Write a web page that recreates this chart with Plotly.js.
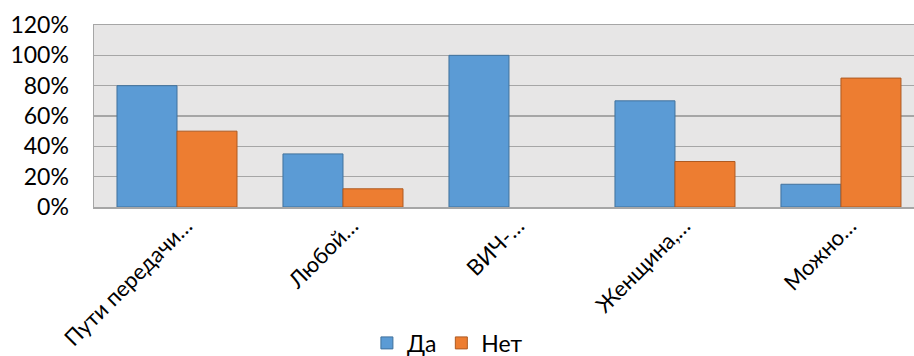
<!DOCTYPE html>
<html>
<head>
<meta charset="utf-8">
<script src="https://cdn.plot.ly/plotly-3.0.1.min.js"></script>
<style>
  html, body { margin: 0; padding: 0; background: #ffffff; overflow: hidden; }
  #chart { width: 914px; height: 356px; }
</style>
</head>
<body>
<div id="chart"></div>
<script>
// Survey answers by statement (share of respondents)
const categories = ["Пути передачи…", "Любой…", "ВИЧ-…", "Женщина,…", "Можно…"];
const yesValues = [0.80, 0.35, 1.00, 0.70, 0.15];
const noValues = [0.50, 0.12, 0.00, 0.30, 0.85];
const yTicks = [0, 0.2, 0.4, 0.6, 0.8, 1.0, 1.2];
const yTickLabels = ["0%", "20%", "40%", "60%", "80%", "100%", "120%"];

const fontFamily = "Lato, 'Noto Sans', 'DejaVu Sans', sans-serif";

// no outline on zero-height bars, so they leave no stray line on the axis
const outlineWidths = vals => vals.map(v => (v > 0 ? 1 : 0));

const traces = [
  {
    type: "bar",
    name: "Да",
    x: categories,
    y: yesValues,
    marker: { color: "#5B9BD5", line: { color: "#41719C", width: outlineWidths(yesValues) } },
    hoverinfo: "x+y"
  },
  {
    type: "bar",
    name: "Нет",
    x: categories,
    y: noValues,
    marker: { color: "#ED7D31", line: { color: "#AE5A21", width: outlineWidths(noValues) } },
    hoverinfo: "x+y"
  }
];

const layout = {
  width: 914,
  height: 356,
  margin: { l: 94, r: 0, t: 25, b: 149, autoexpand: false },
  paper_bgcolor: "#ffffff",
  plot_bgcolor: "#E7E6E6",
  barmode: "group",
  bargap: 0.277,
  bargroupgap: 0,
  font: { family: fontFamily, size: 23, color: "#000000" },
  xaxis: {
    type: "category",
    range: [-0.5, 4.44],
    tickangle: -45,
    showgrid: false,
    showline: true,
    linecolor: "#A6A6A6",
    linewidth: 1.5,
    mirror: true,
    ticks: "",
    ticklabelshift: 9,
    ticklabelstandoff: -4,
    automargin: false,
    tickfont: { family: fontFamily, size: 22, color: "#000000" },
    fixedrange: true
  },
  yaxis: {
    range: [0, 1.2],
    tickvals: yTicks,
    ticktext: yTickLabels,
    showgrid: true,
    gridcolor: "#A6A6A6",
    gridwidth: 1.5,
    zeroline: false,
    showline: true,
    linecolor: "#A6A6A6",
    linewidth: 1.5,
    mirror: true,
    ticks: "outside",
    ticklen: 19,
    tickcolor: "rgba(0,0,0,0)",
    automargin: false,
    tickfont: { family: fontFamily, size: 23, color: "#000000" },
    fixedrange: true
  },
  showlegend: true,
  legend: {
    orientation: "h",
    x: 0.431,
    xanchor: "center",
    y: -0.747,
    yanchor: "middle",
    font: { family: fontFamily, size: 23, color: "#000000" },
    itemwidth: 30,
    tracegroupgap: 0,
    bgcolor: "rgba(0,0,0,0)"
  }
};

Plotly.newPlot("chart", traces, layout, { displayModeBar: false, staticPlot: true });
</script>
</body>
</html>
